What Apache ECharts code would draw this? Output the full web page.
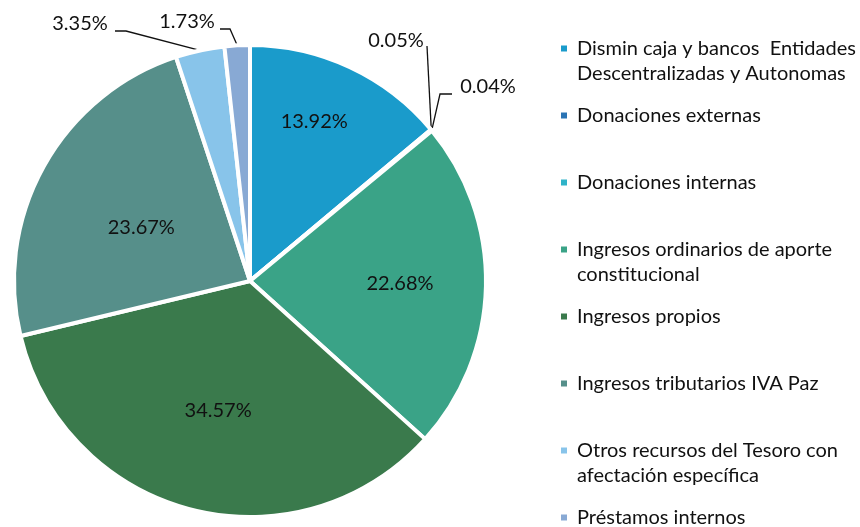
<!DOCTYPE html>
<html><head><meta charset="utf-8">
<script src="https://cdn.jsdelivr.net/npm/echarts@6/dist/echarts.min.js"></script>
<style>html,body{margin:0;padding:0;background:#fff}#c{width:860px;height:527px}</style>
</head><body><div id="c"></div>
<script>
const categories = [
  "Dismin caja y bancos  Entidades Descentralizadas y Autonomas",
  "Donaciones externas",
  "Donaciones internas",
  "Ingresos ordinarios de aporte constitucional",
  "Ingresos propios",
  "Ingresos tributarios IVA Paz",
  "Otros recursos del Tesoro con afectación específica",
  "Préstamos internos"
];
const legendLines = [
  ["Dismin caja y bancos  Entidades", "Descentralizadas y Autonomas"],
  ["Donaciones externas"],
  ["Donaciones internas"],
  ["Ingresos ordinarios de aporte", "constitucional"],
  ["Ingresos propios"],
  ["Ingresos tributarios IVA Paz"],
  ["Otros recursos del Tesoro con", "afectación específica"],
  ["Préstamos internos"]
];
const values = [13.92, 0.05, 0.04, 22.68, 34.57, 23.67, 3.35, 1.73];
const colors = ["#1a9bcb", "#2b74b4", "#2fb3c8", "#3aa387", "#3a7a4c", "#568f8a", "#88c4ea", "#88a9d4"];

// label styling (layout only)
const insideOffset = {0: [13, -50], 3: [29, 0], 4: [-2, 12], 5: [-3, 5]};
const outsidePos = {
  1: {x: 396, y: 41, line: [[427, 46]]},
  2: {x: 488, y: 87, line: [[440, 94], [452, 94]]},
  6: {x: 80, y: 24, line: [[126, 31], [115, 31]]},
  7: {x: 187, y: 22, line: [[230, 29], [220, 29]]}
};

const rich = {t: {fontFamily: "Lato", fontSize: 20, color: "#111", lineHeight: 25},
              g: {width: 10}, sp: {width: 16}};
colors.forEach((c, i) => { rich["m" + i] = {width: 6, height: 6, backgroundColor: c}; });

const data = categories.map((n, i) => {
  const d = {name: n, value: values[i], itemStyle: {color: colors[i]}};
  if (insideOffset[i]) {
    d.label = {position: "inside", offset: insideOffset[i]};
    d.labelLine = {show: false};
  }
  return d;
});

const chart = echarts.init(document.getElementById("c"), null, {renderer: "canvas"});
chart.setOption({
  animation: false,
  backgroundColor: "#fff",
  legend: {
    orient: "vertical",
    left: 549,
    top: 31,
    height: 496,
    itemGap: 17,
    itemWidth: 1,
    itemHeight: 1,
    itemStyle: {opacity: 0},
    data: categories,
    formatter: function (name) {
      const i = categories.indexOf(name);
      const l = legendLines[i];
      const first = "{m" + i + "| }{g| }{t|" + l[0] + "}";
      if (i === categories.length - 1) return first;
      const second = l.length > 1 ? "{sp| }{t|" + l[1] + "}" : "{t| }";
      return first + "\n" + second;
    },
    textStyle: {rich: rich, fontFamily: "Lato", fontSize: 20, lineHeight: 25}
  },
  series: [{
    type: "pie",
    center: [250, 281],
    radius: 236,
    startAngle: 90,
    clockwise: true,
    avoidLabelOverlap: false,
    itemStyle: {borderColor: "#fff", borderWidth: 4},
    label: {
      show: true,
      formatter: p => p.value.toFixed(2) + "%",
      fontFamily: "Lato",
      fontSize: 20,
      color: "#111"
    },
    labelLine: {show: true, length: 10, length2: 10, lineStyle: {color: "#111", width: 1.3}},
    labelLayout: function (params) {
      const o = outsidePos[params.dataIndex];
      if (!o) return {};
      const start = params.labelLinePoints ? params.labelLinePoints[0] : null;
      const pts = start ? [start].concat(o.line) : undefined;
      return {x: o.x, y: o.y, align: "center", verticalAlign: "middle", labelLinePoints: pts};
    },
    data: data
  }]
});
</script></body></html>
